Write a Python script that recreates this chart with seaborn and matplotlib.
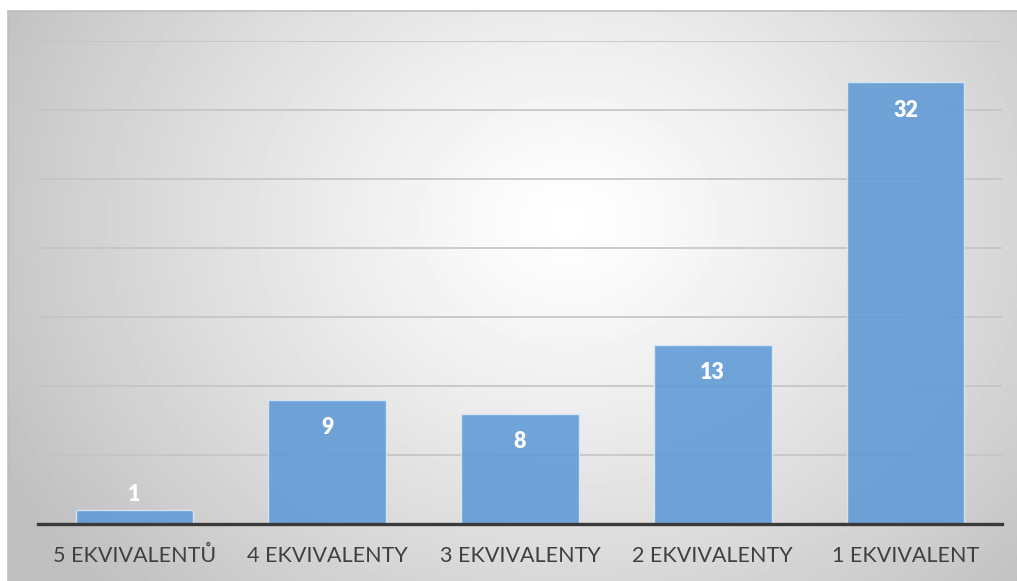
import numpy as np
import pandas as pd
import matplotlib.pyplot as plt
import seaborn as sns

# Datos del gráfico
kategorie = ['5 EKVIVALENTŮ', '4 EKVIVALENTY', '3 EKVIVALENTY', '2 EKVIVALENTY', '1 EKVIVALENT']
pocty = [1, 9, 8, 13, 32]

df = pd.DataFrame({'kategorie': kategorie, 'pocet': pocty})

sns.set_style('white')
plt.rcParams['font.family'] = ['Lato', 'DejaVu Sans']

W, H = 1017, 581
fig = plt.figure(figsize=(W / 100, H / 100), dpi=100)
fig.patch.set_facecolor('white')

# Pozadí s radiálním přechodem
bg = fig.add_axes([8 / W, 0, 1 - 8 / W, 570 / H])
yy, xx = np.mgrid[0:570, 0:1009]
cx, cy = 560, 210
r = np.sqrt(((xx - cx) / 640.0) ** 2 + ((yy - cy) / 540.0) ** 2)
r = np.clip(r, 0, 1)
shade = 1.0 - 0.25 * r ** 1.2
bg.imshow(shade, cmap='gray', vmin=0, vmax=1, aspect='auto', interpolation='bilinear')
bg.set_axis_off()
fig.add_artist(plt.Line2D([8 / W, 1], [1 - 11 / H, 1 - 11 / H], color='#bdbdbd', lw=1.2))
fig.add_artist(plt.Line2D([8 / W, 8 / W], [0, 1 - 11 / H], color='#bdbdbd', lw=1.2))

# Hlavní osa
ax = fig.add_axes([38 / W, (H - 524) / H, (1002 - 38) / W, (524 - 41) / H])
ax.patch.set_alpha(0)
sns.barplot(data=df, x='kategorie', y='pocet', color='#5f9ad6', width=0.61,
            edgecolor='#dbe9f6', linewidth=1.0, alpha=0.88, saturation=1, ax=ax, zorder=3)

ax.set_ylim(0, 35)
ax.set_yticks(range(0, 36, 5))
ax.yaxis.grid(True, color='#c4c4c4', linewidth=1.2, zorder=0)
ax.set_axisbelow(True)
ax.set_yticklabels([])
ax.tick_params(axis='y', length=0)
ax.tick_params(axis='x', length=0, pad=16, labelsize=15.5, labelcolor='#404040')
ax.set_xlabel('')
ax.set_ylabel('')
for s in ['top', 'right', 'left']:
    ax.spines[s].set_visible(False)
ax.spines['bottom'].set_color('#3a3a3a')
ax.spines['bottom'].set_linewidth(2.4)
ax.spines['bottom'].set_zorder(5)

# Popisky hodnot
for i, v in enumerate(pocty):
    if v >= 3:
        ax.annotate(str(v), (i, v), xytext=(0, -20), textcoords='offset points',
                    ha='center', va='center', color='white', fontsize=15.5, fontweight='heavy', zorder=6)
    else:
        ax.annotate(str(v), (i, v), xytext=(0, 11), textcoords='offset points',
                    ha='center', va='center', color='white', fontsize=15.5, fontweight='heavy', zorder=6)

plt.savefig('out.png', dpi=100)
